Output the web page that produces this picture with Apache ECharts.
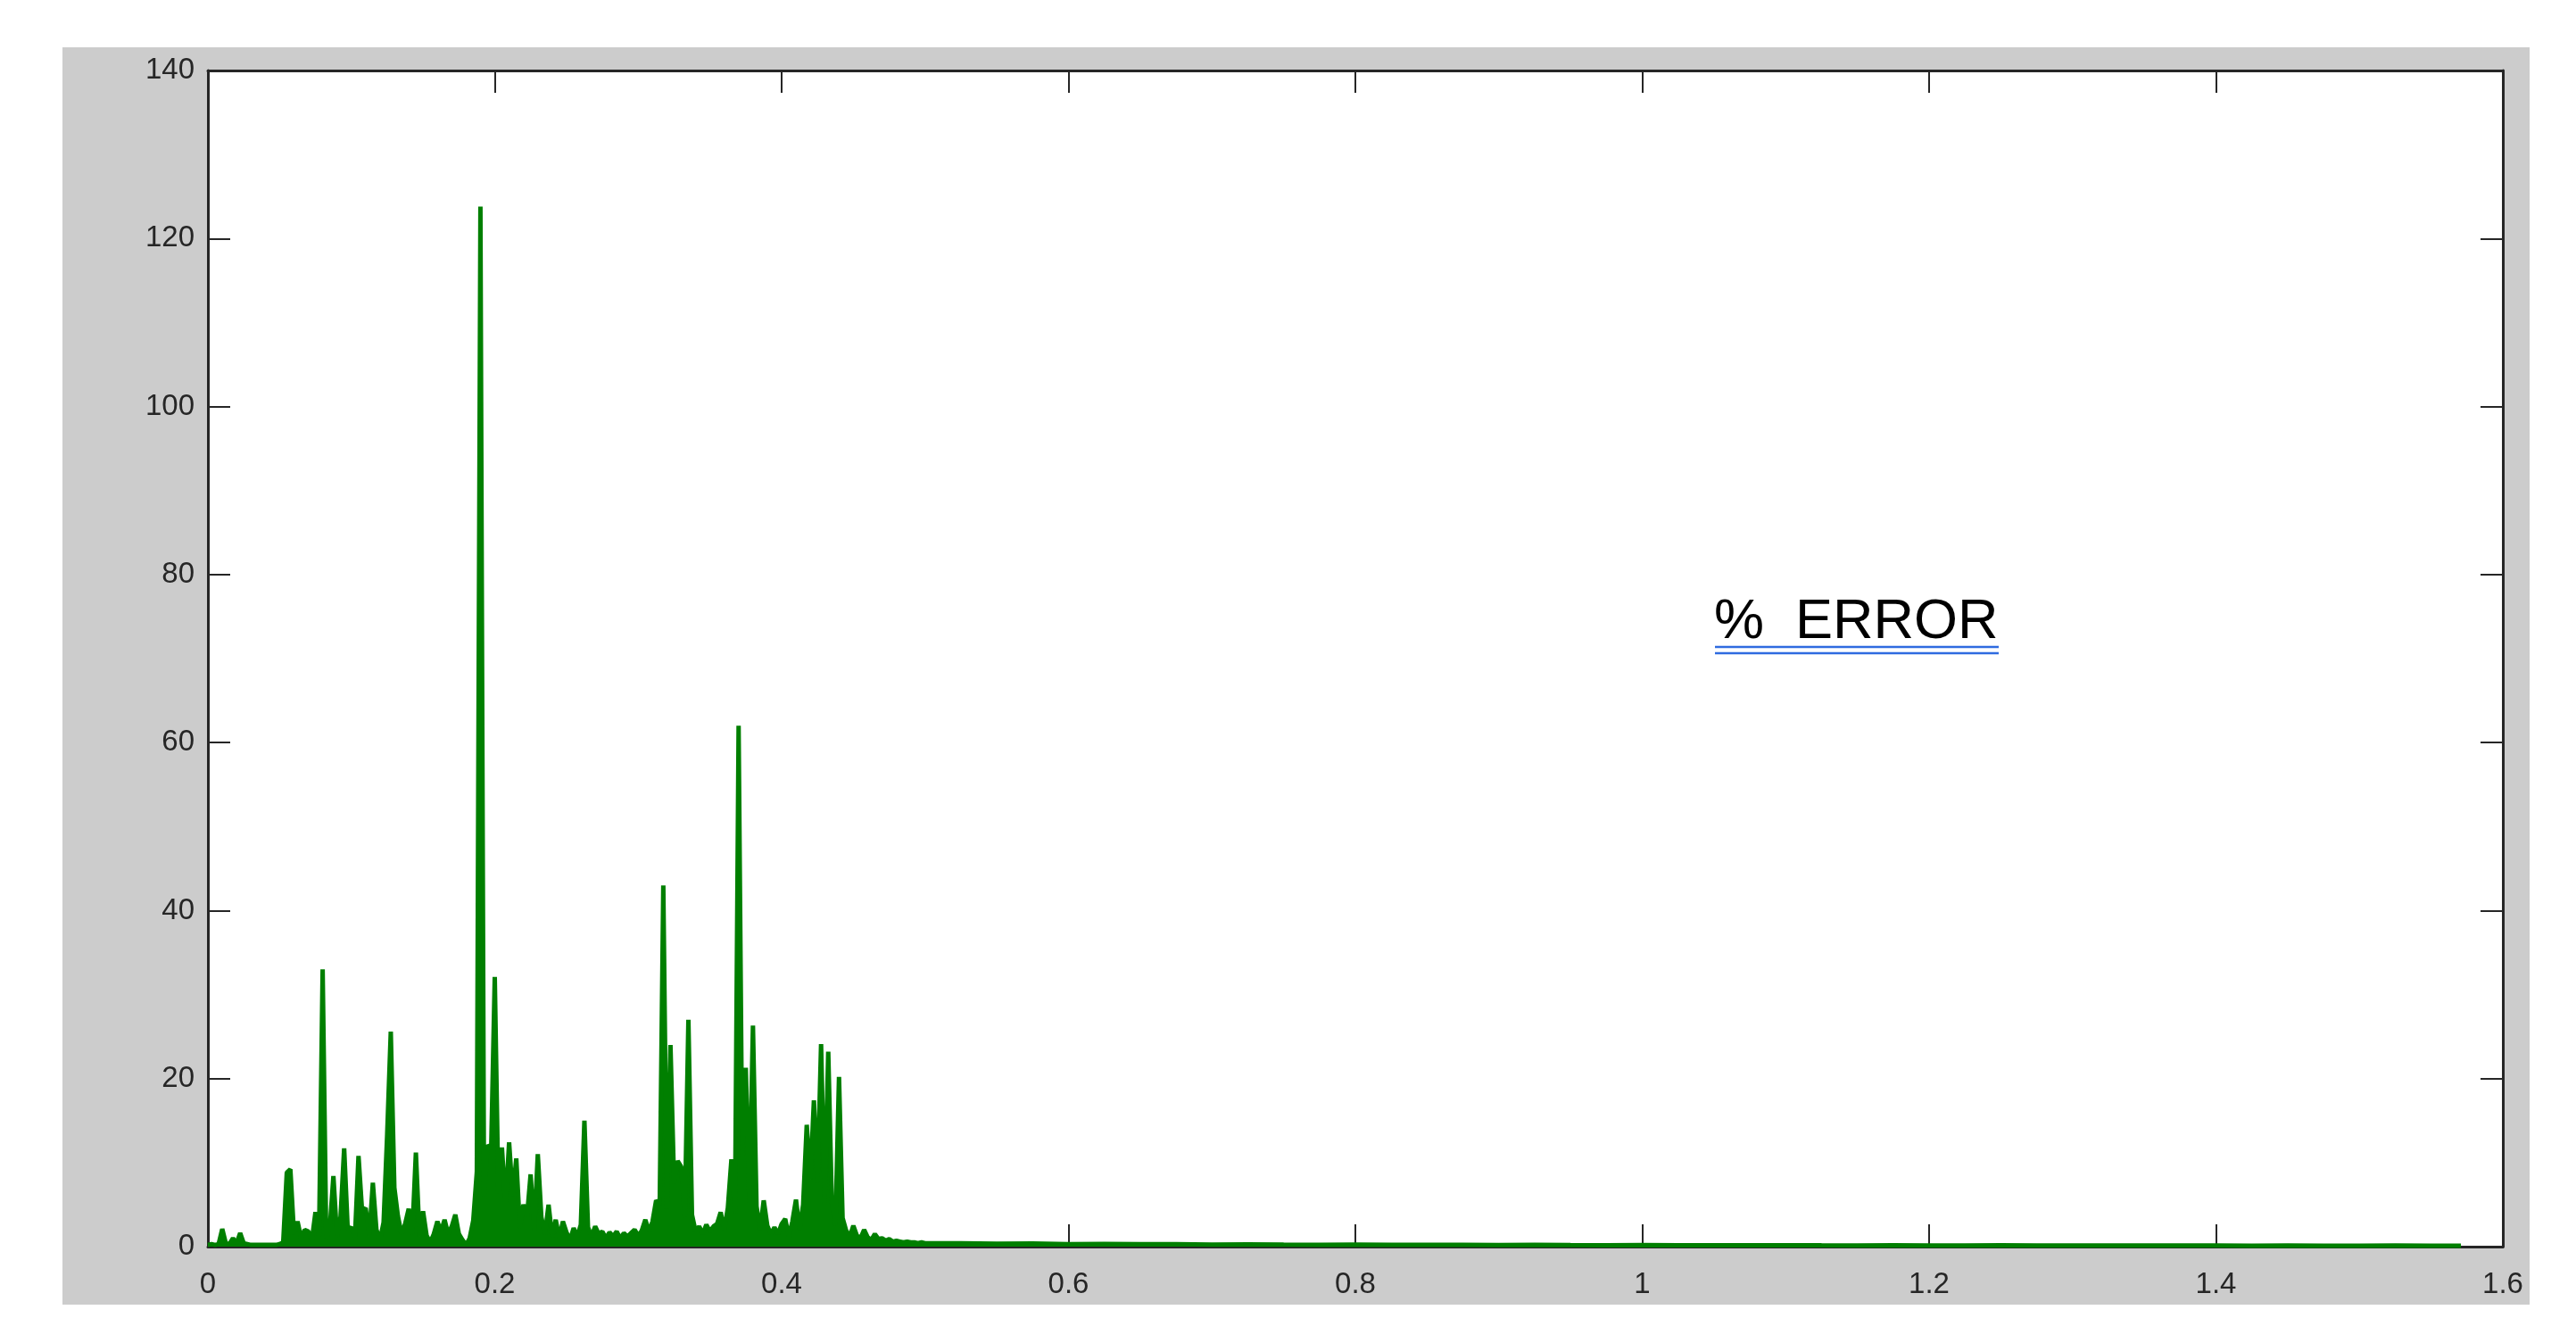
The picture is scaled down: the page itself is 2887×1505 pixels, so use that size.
<!DOCTYPE html>
<html>
<head>
<meta charset="utf-8">
<script src="https://cdn.jsdelivr.net/npm/echarts@6/dist/echarts.min.js"></script>
<style>
html,body{margin:0;padding:0;background:#ffffff;}
#chart{width:2887px;height:1505px;}
</style>
</head>
<body>
<div id="chart"></div>
<script>
// ---- data (x, y = % error) ----
const freqMain = [
  0,0.0025,0.005,0.0075,0.01,0.0125,0.015,0.0175,0.02,0.0225,0.025,0.0275,0.03,0.0325,0.035,0.0375,0.04,0.0425,0.045,0.0475,
  0.05,0.0525,0.055,0.0575,0.06,0.0625,0.065,0.0675,0.07,0.0725,0.075,0.0775,0.08,0.0825,0.085,0.0875,0.09,0.0925,0.095,0.0975,
  0.1,0.1025,0.105,0.1075,0.11,0.1125,0.115,0.1175,0.12,0.1225,0.125,0.1275,0.13,0.1325,0.135,0.1375,0.14,0.1425,0.145,0.1475,
  0.15,0.1525,0.155,0.1575,0.16,0.1625,0.165,0.1675,0.17,0.1725,0.175,0.1775,0.18,0.1825,0.185,0.1875,0.19,0.1925,0.195,0.1975,
  0.2,0.2025,0.205,0.2075,0.21,0.2125,0.215,0.2175,0.22,0.2225,0.225,0.2275,0.23,0.2325,0.235,0.2375,0.24,0.2425,0.245,0.2475,
  0.25,0.2525,0.255,0.2575,0.26,0.2625,0.265,0.2675,0.27,0.2725,0.275,0.2775,0.28,0.2825,0.285,0.2875,0.29,0.2925,0.295,0.2975,
  0.3,0.3025,0.305,0.3075,0.31,0.3125,0.315,0.3175,0.32,0.3225,0.325,0.3275,0.33,0.3325,0.335,0.3375,0.34,0.3425,0.345,0.3475,
  0.35,0.3525,0.355,0.3575,0.36,0.3625,0.365,0.3675,0.37,0.3725,0.375,0.3775,0.38,0.3825,0.385,0.3875,0.39,0.3925,0.395,0.3975,
  0.4,0.4025,0.405,0.4075,0.41,0.4125,0.415,0.4175,0.42,0.4225,0.425,0.4275,0.43,0.4325,0.435,0.4375,0.44,0.4425,0.445,0.4475,
  0.45,0.4525,0.455,0.4575,0.46,0.4625,0.465,0.4675,0.47,0.4725,0.475,0.4775,0.48,0.4825,0.485,0.4875,0.49,0.4925,0.495,0.4975,
  0.5
];
const errMain = [
  0.2,0.3,0.2,0.3,2.1,0.4,0.3,1.0,0.4,1.6,0.4,0.3,0.2,0.2,0.2,0.2,0.2,0.2,0.2,0.2,
  0.3,0.5,8.8,9.2,1.5,3.0,1.0,2.0,1.8,0.8,4.1,1.2,33.0,1.0,2.2,8.4,1.2,3.6,11.7,2.0,
  2.3,1.0,10.8,4.2,4.6,1.2,7.6,2.0,0.8,2.9,13.4,25.6,7.0,3.6,1.5,2.7,4.5,1.5,11.2,1.2,
  4.2,1.3,0.5,1.5,3.0,1.8,3.2,1.5,2.4,3.8,1.5,0.8,0.2,1.0,3.1,8.9,123.8,6.0,12.1,11.6,
  32.1,6.3,11.8,4.8,12.4,6.0,10.5,2.2,5.0,3.6,8.6,2.0,11.0,3.5,1.5,5.0,1.2,3.2,1.0,3.0,
  1.7,0.8,2.2,1.2,2.6,15.0,2.3,1.2,2.4,1.5,1.8,1.0,1.7,1.2,1.8,1.0,1.6,1.2,1.6,2.0,
  1.3,1.9,3.2,1.8,3.0,5.5,5.0,43.0,4.5,24.0,7.5,10.2,9.5,3.5,27.0,3.8,1.8,2.4,1.5,2.6,
  1.8,2.4,2.7,4.1,2.0,4.6,10.4,4.0,62.0,10.7,21.3,5.2,26.3,4.8,2.0,5.5,2.5,1.5,2.3,1.5,
  2.7,3.3,1.2,3.0,5.6,2.0,5.0,14.5,8.0,17.4,7.6,24.1,5.1,23.2,5.3,2.5,20.2,3.4,1.9,1.2,
  2.5,1.3,1.0,2.0,1.1,0.8,1.5,0.9,1.0,0.7,0.9,0.6,0.7,0.6,0.5,0.6,0.5,0.5,0.4,0.5,
  0.4
];
const freqTail = [
  0.525,0.55,0.575,0.6,0.625,0.65,0.675,0.7,0.725,0.75,
  0.775,0.8,0.825,0.85,0.875,0.9,0.925,0.95,0.975,1.0,
  1.025,1.05,1.075,1.1,1.125,1.15,1.175,1.2,1.225,1.25,
  1.275,1.3,1.325,1.35,1.375,1.4,1.425,1.45,1.475,1.5,
  1.525,1.55,1.5708
];
const errTail = [
  0.4,0.35,0.38,0.3,0.32,0.28,0.3,0.25,0.27,0.24,
  0.22,0.25,0.2,0.22,0.2,0.18,0.21,0.18,0.17,0.19,
  0.16,0.17,0.15,0.17,0.15,0.14,0.16,0.14,0.13,0.15,
  0.13,0.12,0.14,0.12,0.12,0.13,0.11,0.12,0.11,0.1,
  0.12,0.1,0.1
];
const xTickLabels = ['0','0.2','0.4','0.6','0.8','1','1.2','1.4','1.6'];
const yTickLabels = ['0','20','40','60','80','100','120','140'];
const annotation = '%  ERROR';

const xs = freqMain.concat(freqTail);
const ys = errMain.concat(errTail);
const points = xs.map((x, i) => [x, ys[i]]);

const axisColor = '#262626';
const tickFont = {color: axisColor, fontSize: 33, fontFamily: '"Liberation Sans", Arial, sans-serif'};

function xAxisDef(pos, showLabel) {
  return {
    type: 'value', position: pos, min: 0, max: 1.6, interval: 0.2,
    axisLine: {show: true, onZero: false, lineStyle: {color: axisColor, width: 3}},
    axisTick: {show: true, inside: true, length: 25, lineStyle: {color: axisColor, width: 2}},
    axisLabel: Object.assign({show: showLabel, margin: 26,
      formatter: v => xTickLabels[Math.round(v / 0.2)]}, tickFont),
    splitLine: {show: false}
  };
}
function yAxisDef(pos, showLabel) {
  return {
    type: 'value', position: pos, min: 0, max: 140, interval: 20,
    axisLine: {show: true, onZero: false, lineStyle: {color: axisColor, width: 3}},
    axisTick: {show: true, inside: true, length: 25, lineStyle: {color: axisColor, width: 2}},
    axisLabel: Object.assign({show: showLabel, margin: 15,
      formatter: v => yTickLabels[Math.round(v / 20)]}, tickFont),
    splitLine: {show: false}
  };
}

const chart = echarts.init(document.getElementById('chart'), null, {renderer: 'canvas'});
chart.setOption({
  animation: false,
  backgroundColor: '#ffffff',
  grid: {left: 233, top: 79, right: 82, bottom: 108, show: true, backgroundColor: '#ffffff', borderWidth: 0},
  xAxis: [xAxisDef('bottom', true), xAxisDef('top', false)],
  yAxis: [yAxisDef('left', true), yAxisDef('right', false)],
  graphic: [
    {type: 'rect', z: -100, silent: true, shape: {x: 70, y: 53, width: 2765, height: 1409}, style: {fill: '#cccccc'}},
    {type: 'text', z: 100, silent: true, x: 1921, y: 698,
      style: {text: annotation, fill: '#000000', font: '63px "Liberation Sans", Arial, sans-serif', verticalAlign: 'middle', align: 'left'}},
    {type: 'line', z: 100, silent: true, shape: {x1: 1922, y1: 725, x2: 2240, y2: 725}, style: {stroke: '#2f6be0', lineWidth: 2.5}},
    {type: 'line', z: 100, silent: true, shape: {x1: 1922, y1: 732, x2: 2240, y2: 732}, style: {stroke: '#2f6be0', lineWidth: 2.5}}
  ],
  series: [{
    type: 'line',
    xAxisIndex: 0, yAxisIndex: 0,
    data: points,
    showSymbol: false,
    symbol: 'none',
    clip: false,
    lineStyle: {color: '#007f00', width: 5, join: 'bevel', cap: 'butt'},
    areaStyle: {color: '#007f00', opacity: 1},
    z: 5
  }]
});
</script>
</body>
</html>
